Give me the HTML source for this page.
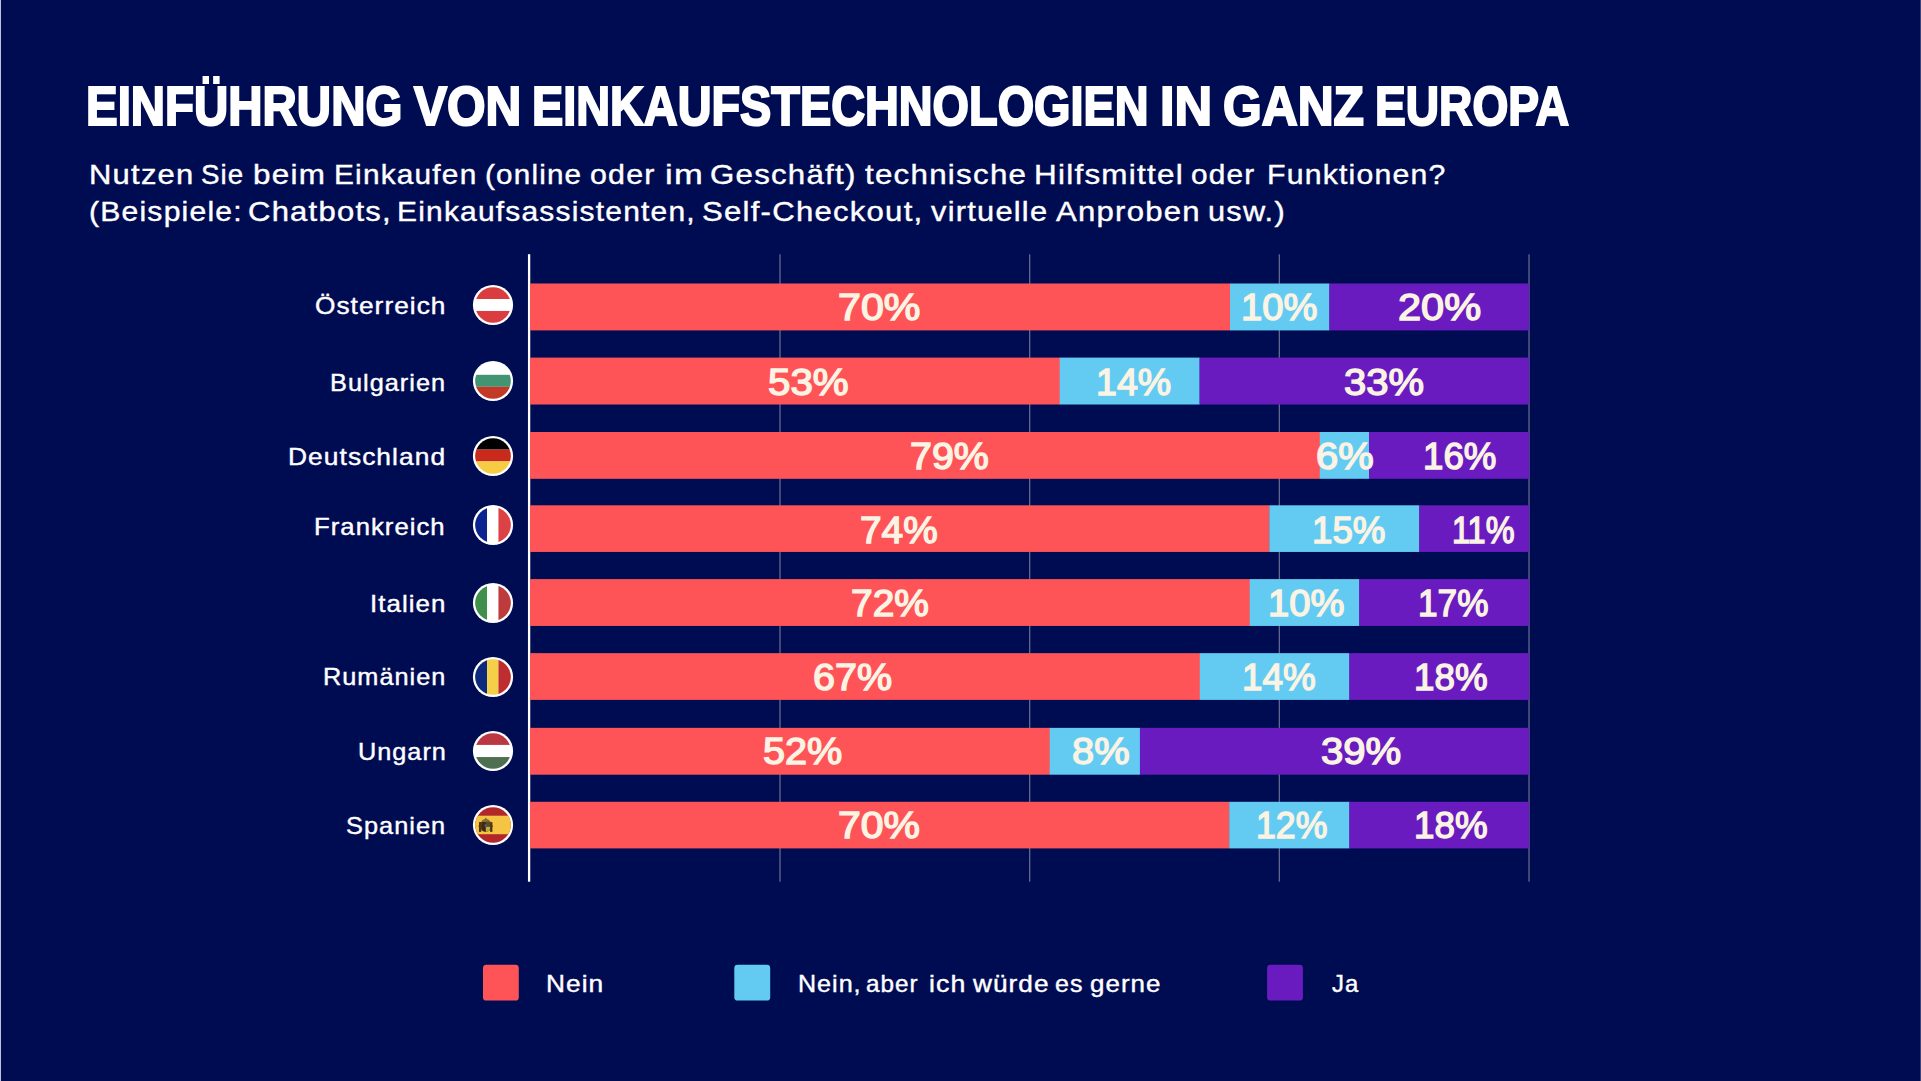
<!DOCTYPE html>
<html lang="de"><head><meta charset="utf-8"><title>Einführung von Einkaufstechnologien in ganz Europa</title>
<style>
html,body{margin:0;padding:0}
body{width:1921px;height:1081px;background:#000c52;position:relative;overflow:hidden;font-family:'Liberation Sans', sans-serif}
.edgeL{position:absolute;left:0;top:0;width:1px;height:1081px;background:#c2c4d4}
.edgeR{position:absolute;left:1920px;top:0;width:1px;height:1081px;background:#3c4478}
span{position:absolute;white-space:nowrap;line-height:1;transform-origin:0 0;color:#fff;font-weight:400}
.title{font-weight:700}
.val{color:#fbf3e4;font-weight:400}
.flag{position:absolute}
.chart{position:absolute;left:0;top:0}
</style></head><body>
<div class="edgeL"></div><div class="edgeR"></div>
<svg class="chart" width="1921" height="1081" viewBox="0 0 1921 1081">
<rect x="779.34" y="254.3" width="1.33" height="627.4" fill="#62668a"/><rect x="1029.01" y="254.3" width="1.33" height="627.4" fill="#62668a"/><rect x="1278.67" y="254.3" width="1.33" height="627.4" fill="#62668a"/><rect x="1528.35" y="254.3" width="1.33" height="627.4" fill="#62668a"/>
<rect x="527.95" y="254.2" width="2.3" height="627.5" fill="#fff"/>
<g><rect x="530" y="283.50" width="700.3" height="46.90" fill="#ff5457"/><rect x="1230.0" y="283.50" width="99.6" height="46.90" fill="#63cbf2"/><rect x="1329.3" y="283.50" width="199.8" height="46.90" fill="#6a1bc0"/></g>
<g><rect x="530" y="357.60" width="530.0" height="46.90" fill="#ff5457"/><rect x="1059.7" y="357.60" width="140.1" height="46.90" fill="#63cbf2"/><rect x="1199.5" y="357.60" width="329.6" height="46.90" fill="#6a1bc0"/></g>
<g><rect x="530" y="432.00" width="790.1" height="46.80" fill="#ff5457"/><rect x="1319.8" y="432.00" width="49.5" height="46.80" fill="#63cbf2"/><rect x="1369.0" y="432.00" width="160.1" height="46.80" fill="#6a1bc0"/></g>
<g><rect x="530" y="505.30" width="739.6" height="46.65" fill="#ff5457"/><rect x="1269.3" y="505.30" width="150.2" height="46.65" fill="#63cbf2"/><rect x="1419.2" y="505.30" width="109.9" height="46.65" fill="#6a1bc0"/></g>
<g><rect x="530" y="579.10" width="720.0" height="46.85" fill="#ff5457"/><rect x="1249.7" y="579.10" width="109.8" height="46.85" fill="#63cbf2"/><rect x="1359.2" y="579.10" width="169.9" height="46.85" fill="#6a1bc0"/></g>
<g><rect x="530" y="653.15" width="670.1" height="46.75" fill="#ff5457"/><rect x="1199.8" y="653.15" width="149.8" height="46.75" fill="#63cbf2"/><rect x="1349.3" y="653.15" width="179.8" height="46.75" fill="#6a1bc0"/></g>
<g><rect x="530" y="727.85" width="520.0" height="46.85" fill="#ff5457"/><rect x="1049.7" y="727.85" width="90.5" height="46.85" fill="#63cbf2"/><rect x="1139.9" y="727.85" width="389.2" height="46.85" fill="#6a1bc0"/></g>
<g><rect x="530" y="801.80" width="699.5" height="46.60" fill="#ff5457"/><rect x="1229.2" y="801.80" width="120.4" height="46.60" fill="#63cbf2"/><rect x="1349.3" y="801.80" width="179.8" height="46.60" fill="#6a1bc0"/></g>
<rect x="483" y="964.75" width="35.8" height="35.8" rx="3.4" fill="#ff5457"/>
<rect x="734.3" y="964.75" width="35.9" height="35.8" rx="3.4" fill="#63cbf2"/>
<rect x="1267.1" y="964.75" width="35.8" height="35.8" rx="3.4" fill="#6a1bc0"/>
</svg>
<svg class="flag" style="left:471.8px;top:284.2px" width="42" height="42" viewBox="-21 -21 42 42"><clipPath id="c0"><circle r="17.85"/></clipPath><circle r="20.1" fill="#fff"/><g clip-path="url(#c0)"><rect x="-20" y="-20" width="40" height="14.05" fill="#d93d40"/><rect x="-20" y="-5.95" width="40" height="11.90" fill="#fff"/><rect x="-20" y="5.95" width="40" height="14.05" fill="#d93d40"/></g></svg><svg class="flag" style="left:471.8px;top:360.2px" width="42" height="42" viewBox="-21 -21 42 42"><clipPath id="c1"><circle r="17.85"/></clipPath><circle r="20.1" fill="#fff"/><g clip-path="url(#c1)"><rect x="-20" y="-20" width="40" height="13.80" fill="#fff"/><rect x="-20" y="-6.20" width="40" height="12.00" fill="#439473"/><rect x="-20" y="5.80" width="40" height="14.20" fill="#c43827"/></g></svg><svg class="flag" style="left:471.8px;top:435.4px" width="42" height="42" viewBox="-21 -21 42 42"><clipPath id="c2"><circle r="17.85"/></clipPath><circle r="20.1" fill="#fff"/><g clip-path="url(#c2)"><rect x="-20" y="-20" width="40" height="13.60" fill="#000"/><rect x="-20" y="-6.40" width="40" height="11.80" fill="#c92a1c"/><rect x="-20" y="5.40" width="40" height="14.60" fill="#f5cc44"/></g></svg><svg class="flag" style="left:471.8px;top:504.4px" width="42" height="42" viewBox="-21 -21 42 42"><clipPath id="c3"><circle r="17.85"/></clipPath><circle r="20.1" fill="#fff"/><g clip-path="url(#c3)"><rect y="-20" x="-20" height="40" width="14.15" fill="#0b2390"/><rect y="-20" x="-5.85" height="40" width="11.3" fill="#fff"/><rect y="-20" x="5.45" height="40" width="14.55" fill="#dc4145"/></g></svg><svg class="flag" style="left:471.8px;top:581.7px" width="42" height="42" viewBox="-21 -21 42 42"><clipPath id="c4"><circle r="17.85"/></clipPath><circle r="20.1" fill="#fff"/><g clip-path="url(#c4)"><rect y="-20" x="-20" height="40" width="14.15" fill="#408f4b"/><rect y="-20" x="-5.85" height="40" width="11.3" fill="#fff"/><rect y="-20" x="5.45" height="40" width="14.55" fill="#bd3b3c"/></g></svg><svg class="flag" style="left:471.8px;top:655.8px" width="42" height="42" viewBox="-21 -21 42 42"><clipPath id="c5"><circle r="17.85"/></clipPath><circle r="20.1" fill="#fff"/><g clip-path="url(#c5)"><rect y="-20" x="-20" height="40" width="14.15" fill="#0c2a7c"/><rect y="-20" x="-5.85" height="40" width="11.3" fill="#f3d048"/><rect y="-20" x="5.45" height="40" width="14.55" fill="#be2d2f"/></g></svg><svg class="flag" style="left:471.8px;top:730.1px" width="42" height="42" viewBox="-21 -21 42 42"><clipPath id="c6"><circle r="17.85"/></clipPath><circle r="20.1" fill="#fff"/><g clip-path="url(#c6)"><rect x="-20" y="-20" width="40" height="13.95" fill="#bb3843"/><rect x="-20" y="-6.05" width="40" height="12.10" fill="#fff"/><rect x="-20" y="6.05" width="40" height="13.95" fill="#4e7050"/></g></svg><svg class="flag" style="left:471.8px;top:804.0px" width="42" height="42" viewBox="-21 -21 42 42"><clipPath id="c7"><circle r="17.85"/></clipPath><circle r="20.1" fill="#fff"/><g clip-path="url(#c7)"><rect x="-20" y="-20" width="40" height="40" fill="#b2282a"/><rect x="-20" y="-9.3" width="40" height="18.5" fill="#f5c443"/><g><rect x="-14" y="-2.9" width="2.3" height="9.8" fill="#3d3a17"/><rect x="-2.9" y="-2.9" width="2.3" height="9.8" fill="#3d3a17"/><rect x="-14.4" y="0.4" width="3.1" height="1.6" fill="#7a2a18"/><rect x="-3.3" y="0.4" width="3.1" height="1.6" fill="#7a2a18"/><path d="M-11.8 -3.4h9v6.6q0 3.4-4.5 3.7q-4.5-.3-4.5-3.7z" fill="#45260f"/><path d="M-7.2 1.6h4.2v1.6q0 3.2-4.2 3.7z" fill="#b9b040"/><path d="M-7.2 -3.4h4.4v5h-4.4z" fill="#5a4a22"/><circle cx="-7.2" cy="0.6" r="1.3" fill="#3f5f9a"/><path d="M-11 -3.6q0-2.2 3.8-2.4q3.8.2 3.8 2.4z" fill="#6e6a4a"/><rect x="-7.6" y="-7.1" width=".9" height="1.6" fill="#3d3a17"/><rect x="-8.6" y="-5.2" width="2.8" height="1.1" fill="#b86a2a"/></g></g></svg>
<span class="title" style="left:86.19px;top:79px;font-size:55.5px;transform:scaleX(0.8549);-webkit-text-stroke:2.2px #fff;">EINFÜHRUNG</span>
<span class="title" style="left:413.79px;top:79px;font-size:55.5px;transform:scaleX(0.8924);-webkit-text-stroke:2.2px #fff;">VON</span>
<span class="title" style="left:531.97px;top:79px;font-size:55.5px;transform:scaleX(0.8437);-webkit-text-stroke:2.2px #fff;">EINKAUFSTECHNOLOGIEN</span>
<span class="title" style="left:1160.49px;top:79px;font-size:55.5px;transform:scaleX(0.9380);-webkit-text-stroke:2.2px #fff;">IN</span>
<span class="title" style="left:1222.80px;top:79px;font-size:55.5px;transform:scaleX(0.8968);-webkit-text-stroke:2.2px #fff;">GANZ</span>
<span class="title" style="left:1375.31px;top:79px;font-size:55.5px;transform:scaleX(0.8313);-webkit-text-stroke:2.2px #fff;">EUROPA</span>
<span class="sub" style="left:88.59px;top:161px;font-size:28.0px;transform:scaleX(1.1055);-webkit-text-stroke:0.4px #fff;letter-spacing:1.12px;">Nutzen</span>
<span class="sub" style="left:201.21px;top:161px;font-size:28.0px;transform:scaleX(0.9902);-webkit-text-stroke:0.4px #fff;letter-spacing:1.12px;">Sie</span>
<span class="sub" style="left:253.38px;top:161px;font-size:28.0px;transform:scaleX(1.1210);-webkit-text-stroke:0.4px #fff;letter-spacing:1.12px;">beim</span>
<span class="sub" style="left:333.57px;top:161px;font-size:28.0px;transform:scaleX(1.0654);-webkit-text-stroke:0.4px #fff;letter-spacing:1.12px;">Einkaufen</span>
<span class="sub" style="left:485.14px;top:161px;font-size:28.0px;transform:scaleX(1.0584);-webkit-text-stroke:0.4px #fff;letter-spacing:1.12px;">(online</span>
<span class="sub" style="left:590.32px;top:161px;font-size:28.0px;transform:scaleX(1.0845);-webkit-text-stroke:0.4px #fff;letter-spacing:1.12px;">oder</span>
<span class="sub" style="left:664.93px;top:161px;font-size:28.0px;transform:scaleX(1.2333);-webkit-text-stroke:0.4px #fff;letter-spacing:1.12px;">im</span>
<span class="sub" style="left:710.39px;top:161px;font-size:28.0px;transform:scaleX(1.1148);-webkit-text-stroke:0.4px #fff;letter-spacing:1.12px;">Geschäft)</span>
<span class="sub" style="left:865.00px;top:161px;font-size:28.0px;transform:scaleX(1.1182);-webkit-text-stroke:0.4px #fff;letter-spacing:1.12px;">technische</span>
<span class="sub" style="left:1034.16px;top:161px;font-size:28.0px;transform:scaleX(1.1217);-webkit-text-stroke:0.4px #fff;letter-spacing:1.12px;">Hilfsmittel</span>
<span class="sub" style="left:1191.44px;top:161px;font-size:28.0px;transform:scaleX(1.0638);-webkit-text-stroke:0.4px #fff;letter-spacing:1.12px;">oder</span>
<span class="sub" style="left:1267.04px;top:161px;font-size:28.0px;transform:scaleX(1.0791);-webkit-text-stroke:0.4px #fff;letter-spacing:1.12px;">Funktionen?</span>
<span class="sub" style="left:89.32px;top:198px;font-size:28.0px;transform:scaleX(1.0755);-webkit-text-stroke:0.4px #fff;letter-spacing:1.12px;">(Beispiele:</span>
<span class="sub" style="left:247.59px;top:198px;font-size:28.0px;transform:scaleX(1.1071);-webkit-text-stroke:0.4px #fff;letter-spacing:1.12px;">Chatbots,</span>
<span class="sub" style="left:397.46px;top:198px;font-size:28.0px;transform:scaleX(1.0701);-webkit-text-stroke:0.4px #fff;letter-spacing:1.12px;">Einkaufsassistenten,</span>
<span class="sub" style="left:702.09px;top:198px;font-size:28.0px;transform:scaleX(1.1108);-webkit-text-stroke:0.4px #fff;letter-spacing:1.12px;">Self-Checkout,</span>
<span class="sub" style="left:931.20px;top:198px;font-size:28.0px;transform:scaleX(1.1010);-webkit-text-stroke:0.4px #fff;letter-spacing:1.12px;">virtuelle</span>
<span class="sub" style="left:1056.10px;top:198px;font-size:28.0px;transform:scaleX(1.1102);-webkit-text-stroke:0.4px #fff;letter-spacing:1.12px;">Anproben</span>
<span class="sub" style="left:1208.10px;top:198px;font-size:28.0px;transform:scaleX(1.0970);-webkit-text-stroke:0.4px #fff;letter-spacing:1.12px;">usw.)</span>
<span class="lab" style="left:314.98px;top:295px;font-size:23.4px;transform:scaleX(1.1211);-webkit-text-stroke:0.4px #fff;letter-spacing:0.94px;">Österreich</span>
<span class="lab" style="left:330.23px;top:372px;font-size:23.4px;transform:scaleX(1.0825);-webkit-text-stroke:0.4px #fff;letter-spacing:0.94px;">Bulgarien</span>
<span class="lab" style="left:288.45px;top:446px;font-size:23.4px;transform:scaleX(1.1265);-webkit-text-stroke:0.4px #fff;letter-spacing:0.94px;">Deutschland</span>
<span class="lab" style="left:314.30px;top:516px;font-size:23.4px;transform:scaleX(1.0983);-webkit-text-stroke:0.4px #fff;letter-spacing:0.94px;">Frankreich</span>
<span class="lab" style="left:369.79px;top:593px;font-size:23.4px;transform:scaleX(1.1062);-webkit-text-stroke:0.4px #fff;letter-spacing:0.94px;">Italien</span>
<span class="lab" style="left:322.84px;top:666px;font-size:23.4px;transform:scaleX(1.0809);-webkit-text-stroke:0.4px #fff;letter-spacing:0.94px;">Rumänien</span>
<span class="lab" style="left:357.52px;top:741px;font-size:23.4px;transform:scaleX(1.0797);-webkit-text-stroke:0.4px #fff;letter-spacing:0.94px;">Ungarn</span>
<span class="lab" style="left:346.42px;top:815px;font-size:23.4px;transform:scaleX(1.0831);-webkit-text-stroke:0.4px #fff;letter-spacing:0.94px;">Spanien</span>
<span class="val" style="left:838.27px;top:290px;font-size:36.5px;transform:scaleX(1.1282);-webkit-text-stroke:1.4px #fbf3e4;">70%</span>
<span class="val" style="left:1240.91px;top:290px;font-size:36.5px;transform:scaleX(1.0471);-webkit-text-stroke:1.4px #fbf3e4;">10%</span>
<span class="val" style="left:1397.56px;top:290px;font-size:36.5px;transform:scaleX(1.1380);-webkit-text-stroke:1.4px #fbf3e4;">20%</span>
<span class="val" style="left:767.90px;top:365px;font-size:36.5px;transform:scaleX(1.1042);-webkit-text-stroke:1.4px #fbf3e4;">53%</span>
<span class="val" style="left:1096.24px;top:365px;font-size:36.5px;transform:scaleX(1.0286);-webkit-text-stroke:1.4px #fbf3e4;">14%</span>
<span class="val" style="left:1343.60px;top:365px;font-size:36.5px;transform:scaleX(1.0958);-webkit-text-stroke:1.4px #fbf3e4;">33%</span>
<span class="val" style="left:909.72px;top:439px;font-size:36.5px;transform:scaleX(1.0803);-webkit-text-stroke:1.4px #fbf3e4;">79%</span>
<span class="val" style="left:1316.41px;top:439px;font-size:36.5px;transform:scaleX(1.0941);-webkit-text-stroke:1.4px #fbf3e4;">6%</span>
<span class="val" style="left:1422.99px;top:439px;font-size:36.5px;transform:scaleX(1.0043);-webkit-text-stroke:1.4px #fbf3e4;">16%</span>
<span class="val" style="left:859.74px;top:513px;font-size:36.5px;transform:scaleX(1.0634);-webkit-text-stroke:1.4px #fbf3e4;">74%</span>
<span class="val" style="left:1311.79px;top:513px;font-size:36.5px;transform:scaleX(1.0057);-webkit-text-stroke:1.4px #fbf3e4;">15%</span>
<span class="val" style="left:1452.02px;top:513px;font-size:36.5px;transform:scaleX(0.8882);-webkit-text-stroke:1.4px #fbf3e4;">11%</span>
<span class="val" style="left:850.63px;top:586px;font-size:36.5px;transform:scaleX(1.0676);-webkit-text-stroke:1.4px #fbf3e4;">72%</span>
<span class="val" style="left:1267.91px;top:586px;font-size:36.5px;transform:scaleX(1.0471);-webkit-text-stroke:1.4px #fbf3e4;">10%</span>
<span class="val" style="left:1418.07px;top:586px;font-size:36.5px;transform:scaleX(0.9643);-webkit-text-stroke:1.4px #fbf3e4;">17%</span>
<span class="val" style="left:813.42px;top:660px;font-size:36.5px;transform:scaleX(1.0817);-webkit-text-stroke:1.4px #fbf3e4;">67%</span>
<span class="val" style="left:1241.78px;top:660px;font-size:36.5px;transform:scaleX(1.0100);-webkit-text-stroke:1.4px #fbf3e4;">14%</span>
<span class="val" style="left:1413.79px;top:660px;font-size:36.5px;transform:scaleX(1.0071);-webkit-text-stroke:1.4px #fbf3e4;">18%</span>
<span class="val" style="left:763.11px;top:734px;font-size:36.5px;transform:scaleX(1.0859);-webkit-text-stroke:1.4px #fbf3e4;">52%</span>
<span class="val" style="left:1071.91px;top:734px;font-size:36.5px;transform:scaleX(1.0922);-webkit-text-stroke:1.4px #fbf3e4;">8%</span>
<span class="val" style="left:1321.40px;top:734px;font-size:36.5px;transform:scaleX(1.0986);-webkit-text-stroke:1.4px #fbf3e4;">39%</span>
<span class="val" style="left:838.38px;top:808px;font-size:36.5px;transform:scaleX(1.1225);-webkit-text-stroke:1.4px #fbf3e4;">70%</span>
<span class="val" style="left:1255.84px;top:808px;font-size:36.5px;transform:scaleX(0.9786);-webkit-text-stroke:1.4px #fbf3e4;">12%</span>
<span class="val" style="left:1413.79px;top:808px;font-size:36.5px;transform:scaleX(1.0071);-webkit-text-stroke:1.4px #fbf3e4;">18%</span>
<span class="leg" style="left:546.47px;top:973px;font-size:23.6px;transform:scaleX(1.1146);-webkit-text-stroke:0.4px #fff;letter-spacing:0.94px;">Nein</span>
<span class="leg" style="left:798.07px;top:973px;font-size:23.6px;transform:scaleX(1.0636);-webkit-text-stroke:0.4px #fff;letter-spacing:0.94px;">Nein,</span>
<span class="leg" style="left:865.97px;top:973px;font-size:23.6px;transform:scaleX(1.0286);-webkit-text-stroke:0.4px #fff;letter-spacing:0.94px;">aber</span>
<span class="leg" style="left:929.17px;top:973px;font-size:23.6px;transform:scaleX(1.1333);-webkit-text-stroke:0.4px #fff;letter-spacing:0.94px;">ich</span>
<span class="leg" style="left:972.60px;top:973px;font-size:23.6px;transform:scaleX(1.1104);-webkit-text-stroke:0.4px #fff;letter-spacing:0.94px;">würde</span>
<span class="leg" style="left:1055.44px;top:973px;font-size:23.6px;transform:scaleX(1.0583);-webkit-text-stroke:0.4px #fff;letter-spacing:0.94px;">es</span>
<span class="leg" style="left:1090.20px;top:973px;font-size:23.6px;transform:scaleX(1.0984);-webkit-text-stroke:0.4px #fff;letter-spacing:0.94px;">gerne</span>
<span class="leg" style="left:1332.00px;top:973px;font-size:23.6px;transform:scaleX(1.0115);-webkit-text-stroke:0.4px #fff;letter-spacing:0.94px;">Ja</span>
</body></html>
